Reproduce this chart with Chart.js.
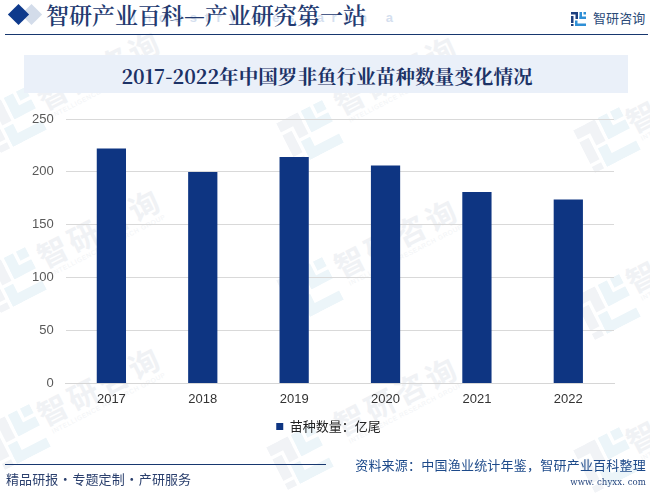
<!DOCTYPE html>
<html><head><meta charset="utf-8">
<script src="https://cdn.jsdelivr.net/npm/chart.js@4"></script>
<style>
html,body{margin:0;padding:0;background:#fff}
body{width:650px;height:493px;position:relative;overflow:hidden;font-family:"Noto Sans CJK SC","Noto Sans",sans-serif}
.a{position:absolute;white-space:nowrap}
canvas{position:absolute;left:0;top:0}
.wm{position:absolute;transform:translate(-50%,-50%) rotate(-27deg);white-space:nowrap;text-align:center;color:#f0f2f5}
.wm b{display:block;font-size:30px;line-height:34px;font-weight:700;letter-spacing:4px}
.wm s{display:block;text-decoration:none;font-family:"Liberation Sans";font-size:6.5px;line-height:8px;letter-spacing:.6px;color:#f2f4f6}
.wl{position:absolute;width:52px;height:48px;transform:translate(-50%,-50%) rotate(-27deg)}
</style></head><body>
<div id="wms"></div>
<div class="a" style="left:132px;top:9px;font-family:'Liberation Sans';font-weight:700;font-size:13px;line-height:18px;letter-spacing:7.6px;color:#d5dfef">Industry Research a</div>
<div class="a" style="left:24px;top:7px;width:15px;height:15px;background:#d3dcea;transform:rotate(45deg)"></div>
<div class="a" style="left:10.5px;top:6.5px;width:15px;height:15px;background:#0e3a8c;transform:rotate(45deg)"></div>
<div class="a" style="left:46px;top:-1px;font-family:'Noto Serif CJK SC','Noto Sans CJK SC';font-size:23px;color:#233a70;line-height:32px;font-weight:600">智研产业百科—产业研究第一站</div>
<div class="a" style="left:5px;top:34px;width:643px;height:1px;background:#17376f"></div>
<div class="a" style="left:593px;top:8px;font-size:13px;line-height:20px;color:#2a4a78;letter-spacing:.1px">智研咨询</div>
<svg class="a" style="left:571px;top:12px" width="15" height="14" viewBox="0 0 30 28">
<g fill="#1d3f7e"><rect x="0" y="0" width="14" height="5"/><rect x="9" y="0" width="5" height="14"/><rect x="0" y="8" width="5" height="14"/><rect x="0" y="24" width="5" height="4"/></g>
<g fill="#2f8fd6"><rect x="17" y="0" width="5" height="14"/><rect x="25" y="0" width="5" height="5"/><rect x="17" y="9" width="13" height="5"/><rect x="8" y="17" width="5" height="11"/><rect x="8" y="23" width="22" height="5"/></g></svg>
<div class="a" style="left:24px;top:55px;width:604px;height:38px;background:#eaf0f9"></div>
<div class="a" style="left:24px;top:55px;width:606px;height:38px;line-height:42px;text-align:center;font-family:'Noto Serif CJK SC','Noto Sans CJK SC';font-weight:700;font-size:19.6px;color:#1c3266">2017-2022年中国罗非鱼行业苗种数量变化情况</div>
<canvas id="c" width="650" height="493"></canvas>
<div class="a" style="left:5px;top:464px;width:321px;height:1px;background:#17376f"></div>
<div class="a" style="left:6px;top:469px;font-size:13px;line-height:20px;color:#2a3f6d;letter-spacing:.1px">精品研报<span style="display:inline-block;width:14px;text-align:center">·</span>专题定制<span style="display:inline-block;width:14px;text-align:center">·</span>产研服务</div>
<div class="a" style="right:4px;top:455px;font-size:13px;line-height:20px;color:#1d4a8a;letter-spacing:.22px">资料来源：中国渔业统计年鉴，智研产业百科整理</div>
<div class="a" style="right:4px;top:475px;font-family:'DejaVu Serif';font-size:8.6px;line-height:14px;color:#2a4a80;letter-spacing:.05px">www. chyxx. com</div>
<script>
const categories=["2017","2018","2019","2020","2021","2022"];
const seedlings=[222,200,214,206,181,174];
const yTicks=[0,50,100,150,200,250];
const seriesLabel="苗种数量：亿尾";
const wmCentres=[[101,72],[101,230],[101,388],[398,77],[398,240],[398,398],[690,95],[690,255],[690,415]];
const wmLogos=[[13,120],[13,280],[17,437],[310,133],[310,290],[300,457],[607,140],[607,307],[607,460]];
const wrap=document.getElementById('wms');
wmCentres.forEach(p=>{const d=document.createElement('div');d.className='wm';d.style.left=p[0]+'px';d.style.top=p[1]+'px';
d.innerHTML='<b>智研咨询</b><s>INTELLIGENCE RESEARCH GROUP</s>';wrap.appendChild(d);});
wmLogos.forEach(p=>{wrap.insertAdjacentHTML('beforeend',`<svg class="wl" style="left:${p[0]}px;top:${p[1]}px" viewBox="0 0 30 28">
<g fill="#f1f3f6"><rect x="0" y="0" width="14" height="6"/><rect x="8" y="0" width="6" height="14"/><rect x="0" y="8" width="6" height="14"/><rect x="0" y="24" width="6" height="4"/></g>
<g fill="#ecf5f9"><rect x="16" y="0" width="6" height="14"/><rect x="24" y="0" width="6" height="6"/><rect x="16" y="8" width="14" height="6"/><rect x="8" y="16" width="6" height="12"/><rect x="8" y="22" width="22" height="6"/></g></svg>`);});
const shiftLegend={id:'shiftLegend',afterLayout(ch){ch.legend.left+=11.5;ch.legend.right+=11.5;}};
new Chart(document.getElementById('c'),{type:'bar',plugins:[shiftLegend],
data:{labels:categories,datasets:[{label:seriesLabel,data:seedlings,backgroundColor:'#0e3582',categoryPercentage:.32,barPercentage:1}]},
options:{responsive:false,animation:false,
layout:{padding:{left:20,right:36,top:119,bottom:50}},
plugins:{tooltip:{enabled:false},legend:{position:'bottom',labels:{boxWidth:7,boxHeight:7,padding:13,color:'#222',font:{family:'"Noto Sans CJK SC"',size:13}}}},
scales:{x:{grid:{display:false},border:{color:'#d6d6d6'},ticks:{color:'#333',padding:0,font:{family:'"Liberation Sans"',size:13}}},
y:{min:0,max:250,afterBuildTicks:s=>{s.ticks=yTicks.map(v=>({value:v}))},grid:{color:'#d9d9d9',drawTicks:false},border:{display:false},ticks:{color:'#595959',padding:12,font:{family:'"Liberation Sans"',size:13}}}}}});
</script>
</body></html>
